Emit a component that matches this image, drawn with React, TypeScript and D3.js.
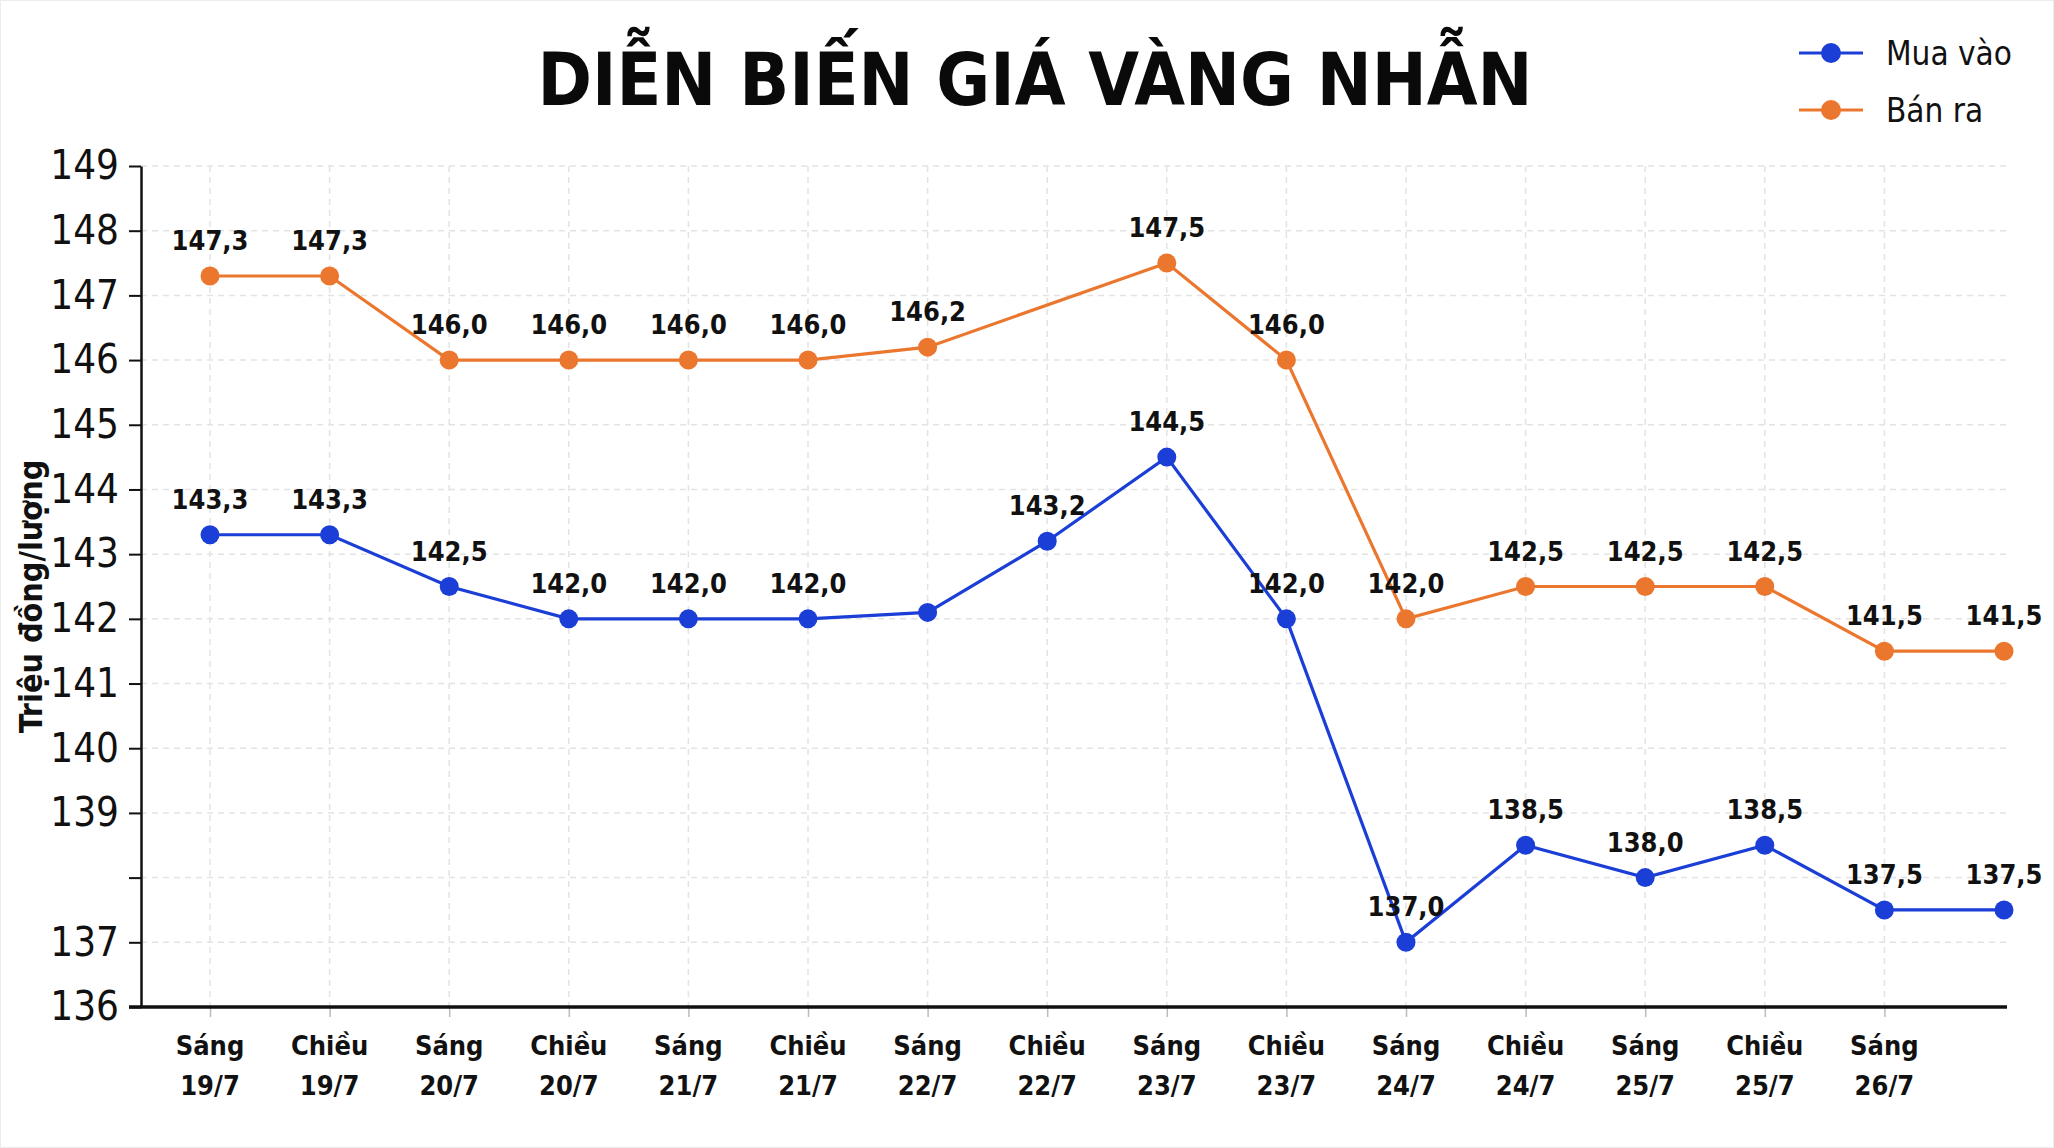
import * as d3 from "d3";
import React, { useEffect, useRef } from "react";

// Trading sessions on the x axis; the latest reading carries no label
const periods = [
  "Sáng 19/7",
  "Chiều 19/7",
  "Sáng 20/7",
  "Chiều 20/7",
  "Sáng 21/7",
  "Chiều 21/7",
  "Sáng 22/7",
  "Chiều 22/7",
  "Sáng 23/7",
  "Chiều 23/7",
  "Sáng 24/7",
  "Chiều 24/7",
  "Sáng 25/7",
  "Chiều 25/7",
  "Sáng 26/7",
  "",
];

// Ring gold prices, million VND per tael
const buyPrices = [
  143.3, 143.3, 142.5, 142.0, 142.0, 142.0, 142.1, 143.2, 144.5, 142.0, 137.0,
  138.5, 138.0, 138.5, 137.5, 137.5,
];
const sellPrices: (number | null)[] = [
  147.3, 147.3, 146.0, 146.0, 146.0, 146.0, 146.2, null, 147.5, 146.0, 142.0,
  142.5, 142.5, 142.5, 141.5, 141.5,
];

// Points drawn without a value label
const buyUnlabeled = ["Sáng 22/7"];

const yDomain = [136, 149];
const yTickLabels = [149, 148, 147, 146, 145, 144, 143, 142, 141, 140, 139, 137, 136];

const W = 2054;
const H = 1148;
const FONT =
  "'Liberation Sans Narrow', 'DejaVu Sans Condensed', 'Roboto Condensed', 'Liberation Sans', sans-serif";

const BLUE = "#1b3fd6";
const ORANGE = "#eb772f";

interface Series {
  name: string;
  color: string;
  values: (number | null)[];
  hidden: string[];
}

const GoldChart: React.FC = () => {
  const svgRef = useRef<SVGSVGElement>(null);

  useEffect(() => {
    if (!svgRef.current) return;

    const plot = { left: 141, right: 2007, top: 166, bottom: 1007 };

    d3.select(svgRef.current).selectAll("*").remove();

    const svg = d3
      .select(svgRef.current)
      .attr("width", W)
      .attr("height", H)
      .style("font-family", FONT);

    svg
      .append("rect")
      .attr("width", W)
      .attr("height", H)
      .attr("fill", "#ffffff")
      .attr("stroke", "#ececec")
      .attr("stroke-width", 2);

    const x = d3.scalePoint<string>().domain(periods).range([210, 2004]);
    const y = d3.scaleLinear().domain(yDomain).range([plot.bottom, plot.top]);

    const labeled = periods.filter((p) => p !== "");
    const fmt = (v: number) => d3.format(".1f")(v).replace(".", ",");

    // Grid
    const grid = svg
      .append("g")
      .attr("stroke", "#e3e3e3")
      .attr("stroke-width", 1.5)
      .attr("stroke-dasharray", "6,5");
    grid
      .selectAll("line.h")
      .data(d3.range(yDomain[0] + 1, yDomain[1] + 1))
      .join("line")
      .attr("class", "h")
      .attr("x1", plot.left)
      .attr("x2", plot.right)
      .attr("y1", (d) => y(d))
      .attr("y2", (d) => y(d));
    grid
      .selectAll("line.v")
      .data(labeled)
      .join("line")
      .attr("class", "v")
      .attr("x1", (d) => x(d)!)
      .attr("x2", (d) => x(d)!)
      .attr("y1", plot.top)
      .attr("y2", plot.bottom);

    // Y axis
    const yAxis = d3
      .axisLeft(y)
      .tickValues(d3.range(yDomain[0], yDomain[1] + 1))
      .tickSize(12)
      .tickSizeOuter(0)
      .tickPadding(10)
      .tickFormat((d) => (yTickLabels.includes(+d) ? String(d) : ""));
    const gy = svg
      .append("g")
      .attr("transform", `translate(${plot.left},0)`)
      .call(yAxis);
    gy.select(".domain").attr("stroke", "#111").attr("stroke-width", 2.5);
    gy.selectAll(".tick line").attr("stroke", "#111").attr("stroke-width", 2);
    gy.selectAll(".tick text")
      .attr("fill", "#111")
      .style("font-family", FONT)
      .style("font-size", "40px");

    // X axis
    const xAxis = d3
      .axisBottom(x)
      .tickValues(labeled)
      .tickSize(10)
      .tickFormat(() => "");
    const gx = svg
      .append("g")
      .attr("transform", `translate(0,${plot.bottom})`)
      .call(xAxis);
    gx.select(".domain").remove();
    gx.selectAll(".tick line").attr("stroke", "#bbb").attr("stroke-width", 1.5);
    svg
      .append("line")
      .attr("x1", plot.left - 12)
      .attr("x2", plot.right)
      .attr("y1", plot.bottom)
      .attr("y2", plot.bottom)
      .attr("stroke", "#111")
      .attr("stroke-width", 3.5);

    const xl = svg
      .append("g")
      .selectAll("text")
      .data(labeled)
      .join("text")
      .attr("x", (d) => x(d)!)
      .attr("text-anchor", "middle")
      .attr("font-size", 27)
      .attr("font-weight", "bold")
      .attr("fill", "#111");
    xl.append("tspan")
      .attr("x", (d) => x(d)!)
      .attr("y", plot.bottom + 48)
      .text((d) => d.split(" ")[0]);
    xl.append("tspan")
      .attr("x", (d) => x(d)!)
      .attr("y", plot.bottom + 88)
      .text((d) => d.split(" ")[1]);

    // Axis title
    svg
      .append("text")
      .attr(
        "transform",
        `translate(42,${(plot.top + plot.bottom) / 2 + 10}) rotate(-90)`,
      )
      .attr("text-anchor", "middle")
      .attr("font-size", 32)
      .attr("font-weight", "bold")
      .attr("fill", "#111")
      .text("Triệu đồng/lượng");

    // Series
    const series: Series[] = [
      { name: "Bán ra", color: ORANGE, values: sellPrices, hidden: [] },
      { name: "Mua vào", color: BLUE, values: buyPrices, hidden: buyUnlabeled },
    ];

    series.forEach((s) => {
      const pts = periods
        .map((p, i) => ({ p, v: s.values[i] }))
        .filter((d): d is { p: string; v: number } => d.v != null);

      const line = d3
        .line<{ p: string; v: number }>()
        .x((d) => x(d.p)!)
        .y((d) => y(d.v));

      svg
        .append("path")
        .datum(pts)
        .attr("fill", "none")
        .attr("stroke", s.color)
        .attr("stroke-width", 3.2)
        .attr("d", line);

      svg
        .append("g")
        .selectAll("circle")
        .data(pts)
        .join("circle")
        .attr("cx", (d) => x(d.p)!)
        .attr("cy", (d) => y(d.v))
        .attr("r", 9.5)
        .attr("fill", s.color);

      svg
        .append("g")
        .selectAll("text")
        .data(pts.filter((d) => !s.hidden.includes(d.p)))
        .join("text")
        .attr("x", (d) => x(d.p)!)
        .attr("y", (d) => y(d.v) - 26)
        .attr("text-anchor", "middle")
        .attr("font-size", 27)
        .attr("font-weight", "bold")
        .attr("fill", "#111")
        .text((d) => fmt(d.v));
    });

    // Title
    svg
      .append("text")
      .attr("x", 1035)
      .attr("y", 105)
      .attr("text-anchor", "middle")
      .attr("font-size", 73)
      .attr("font-weight", "bold")
      .attr("fill", "#0a0a0a")
      .text("DIỄN BIẾN GIÁ VÀNG NHẪN");

    // Legend
    const legend = svg
      .append("g")
      .selectAll("g")
      .data([series[1], series[0]])
      .join("g")
      .attr("transform", (d, i) => `translate(1799,${53 + i * 57})`);
    legend
      .append("line")
      .attr("x1", 0)
      .attr("x2", 64)
      .attr("stroke", (d) => d.color)
      .attr("stroke-width", 3.2);
    legend
      .append("circle")
      .attr("cx", 32)
      .attr("r", 10)
      .attr("fill", (d) => d.color);
    legend
      .append("text")
      .attr("x", 87)
      .attr("dy", "0.35em")
      .attr("font-size", 33)
      .attr("fill", "#111")
      .text((d) => d.name);
  }, []);

  return (
    <svg
      ref={svgRef}
      style={{ position: "absolute", left: 0, top: 0, display: "block" }}
    />
  );
};

export default function App() {
  return <GoldChart />;
}
